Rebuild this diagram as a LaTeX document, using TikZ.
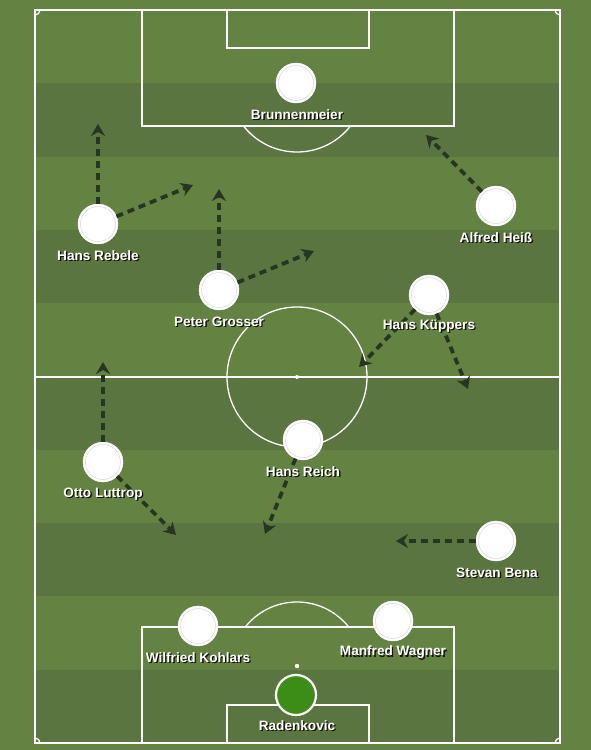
\documentclass[tikz,border=0pt]{standalone}
\usepackage{fontspec}
\setmainfont{Liberation Sans}
\usetikzlibrary{arrows.meta}
\definecolor{grassL}{HTML}{648241}
\definecolor{grassD}{HTML}{5A7540}
\definecolor{runc}{HTML}{263620}
\definecolor{shadowc}{HTML}{14140C}
\definecolor{keeper}{HTML}{3C8C18}
\newcommand{\shtext}[1]{\leavevmode\rlap{\hspace{1.3pt}\raisebox{-1.3pt}{\textcolor{shadowc}{#1}}}#1}
\tikzset{
  pline/.style={white, line width=1.3pt},
  player/.style={circle, draw=white, fill=white, minimum size=40pt, inner sep=0pt, outer sep=0pt,
    path picture={\draw[black!15, line width=0.5pt] (path picture bounding box.center) circle[radius=17.5pt];}},
  gk/.style={player, fill=keeper, line width=2.2pt, path picture={}},
  pname/.style={text=white, font=\fontsize{13.6}{15}\selectfont\bfseries, inner sep=0pt},
  run/.style={runc, line width=3.8pt, dash pattern=on 7pt off 5pt, -{Stealth[length=12pt,width=14pt,inset=4pt]}}
}
\begin{document}
\begin{tikzpicture}[x=1pt,y=-1pt]
\fill[grassL] (0,0) rectangle (591,750);
\useasboundingbox (0,0) rectangle (591,750);
% stripes
\foreach \i in {1,3,5,7,9} {
  \fill[grassD] (35,{10+\i*73.3}) rectangle (560,{10+(\i+1)*73.3});
}
% pitch lines
\draw[pline] (35,10) rectangle (560,743);
\draw[pline] (35,377) -- (560,377);
\draw[pline] (297,377) circle[radius=70];
\fill[white] (297,377) circle[radius=2];
\draw[pline] (142,10) rectangle (454,126);
\draw[pline] (227,10) rectangle (369,48);
\draw[pline] (142,743) rectangle (454,627);
\draw[pline] (227,743) rectangle (369,705);
\fill[white] (297,666) circle[radius=2.2];
\begin{scope}
  \clip (142,126) rectangle (454,200);
  \draw[pline] (297,84) circle[radius=68];
\end{scope}
\begin{scope}
  \clip (142,560) rectangle (454,627);
  \draw[pline] (297,668) circle[radius=66];
\end{scope}
\begin{scope}
  \clip (35,10) rectangle (560,743);
  \draw[pline] (35,10) circle[radius=5];
  \draw[pline] (560,10) circle[radius=5];
  \draw[pline] (35,743) circle[radius=5];
  \draw[pline] (560,743) circle[radius=5];
\end{scope}
% run targets
\coordinate (rebA) at (98,124);
\coordinate (rebB) at (193,185);
\coordinate (groA) at (219,189);
\coordinate (groB) at (314,251);
\coordinate (heiA) at (426,135);
\coordinate (kupA) at (359,367);
\coordinate (kupB) at (468,389);
\coordinate (reiA) at (265,534);
\coordinate (lutA) at (103,362);
\coordinate (lutB) at (176,535);
\coordinate (benA) at (396,541);
% players
\node[player] (bru) at (296,83) {};
\node[player] (reb) at (98,224) {};
\node[player] (hei) at (496,206) {};
\node[player] (gro) at (219,290) {};
\node[player] (kup) at (429,295) {};
\node[player] (rei) at (303,440) {};
\node[player] (lut) at (103,462) {};
\node[player] (ben) at (496,541) {};
\node[player] (koh) at (198,626) {};
\node[player] (wag) at (393,621) {};
\node[gk] (rad) at (296,695) {};
% runs
\draw[run] (reb.north) -- (rebA);
\draw[run] (reb) -- (rebB);
\draw[run] (gro.north) -- (groA);
\draw[run] (gro) -- (groB);
\draw[run] (hei) -- (heiA);
\draw[run] (kup) -- (kupA);
\draw[run] (kup) -- (kupB);
\draw[run] (rei) -- (reiA);
\draw[run] (lut.north) -- (lutA);
\draw[run] (lut) -- (lutB);
\draw[run] (ben.west) -- (benA);
% names
\node[pname] (bruN) at (297,115) {\shtext{Brunnenmeier}};
\node[pname] (rebN) at (98,256) {\shtext{Hans Rebele}};
\node[pname] (heiN) at (496,238) {\shtext{Alfred Heiß}};
\node[pname] (groN) at (219,322) {\shtext{Peter Grosser}};
\node[pname] (kupN) at (429,327) {\shtext{Hans Küppers}};
\node[pname] (reiN) at (303,472) {\shtext{Hans Reich}};
\node[pname] (lutN) at (103,495) {\shtext{Otto Luttrop}};
\node[pname] (benN) at (497,573) {\shtext{Stevan Bena}};
\node[pname] (kohN) at (198,658) {\shtext{Wilfried Kohlars}};
\node[pname] (wagN) at (393,653) {\shtext{Manfred Wagner}};
\node[pname] (radN) at (297,726) {\shtext{Radenkovic}};
\end{tikzpicture}
\end{document}
